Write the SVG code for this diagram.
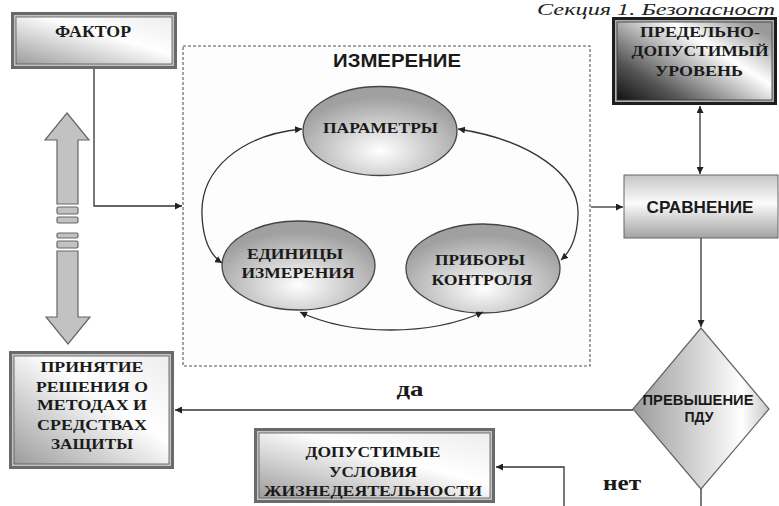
<svg xmlns="http://www.w3.org/2000/svg" width="779" height="506" viewBox="0 0 779 506">
<style>
.serif{font-family:"Liberation Serif","Times New Roman",serif;font-weight:bold;fill:#1a1a1a;text-anchor:middle}
.sans{font-family:"Liberation Sans",Arial,sans-serif;font-weight:bold;fill:#1a1a1a;text-anchor:middle}
.conn{fill:none;stroke:#333;stroke-width:1.3}
.ell{stroke:#444;stroke-width:1.3;fill:url(#ellGrad)}
.frameOuter{fill:#6a6a6a}
.frameMid{fill:#c4c4c4}
.frameIn{fill:url(#boxGrad);stroke:#555;stroke-width:0.8}
.bigArrow{fill:#c2c2c2;stroke:#666;stroke-width:1.2}
</style>
<defs>
<linearGradient id="boxGrad" x1="0" y1="1" x2="1" y2="0">
<stop offset="0" stop-color="#9c9c9c"/>
<stop offset="0.6" stop-color="#ffffff"/>
<stop offset="1" stop-color="#ededed"/>
</linearGradient>
<linearGradient id="pduGrad" x1="0" y1="1" x2="1" y2="0.2">
<stop offset="0" stop-color="#111"/>
<stop offset="0.25" stop-color="#555"/>
<stop offset="0.7" stop-color="#ffffff"/>
<stop offset="1" stop-color="#9a9a9a"/>
</linearGradient>
<linearGradient id="cmpGrad" x1="0" y1="0" x2="0" y2="1">
<stop offset="0" stop-color="#c6c6c6"/>
<stop offset="0.45" stop-color="#fbfbfb"/>
<stop offset="1" stop-color="#a2a2a2"/>
</linearGradient>
<linearGradient id="diaGrad" x1="0" y1="0" x2="1" y2="0">
<stop offset="0" stop-color="#9a9a9a"/>
<stop offset="0.5" stop-color="#d8d8d8"/>
<stop offset="0.8" stop-color="#ffffff"/>
<stop offset="1" stop-color="#c8c8c8"/>
</linearGradient>
<radialGradient id="ellGrad" cx="0.5" cy="0.72" r="0.6">
<stop offset="0" stop-color="#ffffff"/>
<stop offset="1" stop-color="#a0a0a0"/>
</radialGradient>
<marker id="arr" viewBox="0 0 10 10" refX="10" refY="5" markerWidth="7" markerHeight="7" markerUnits="userSpaceOnUse" orient="auto-start-reverse">
<path d="M0,0 L10,5 L0,10 z" fill="#222"/>
</marker>
</defs>

<text x="537" y="15" textLength="238" lengthAdjust="spacingAndGlyphs" style="font-family:'Liberation Serif','Times New Roman',serif;font-style:italic;font-size:16px;fill:#222">Секция 1. Безопасност</text>

<g id="measure">
<rect x="183" y="46" width="407" height="320" fill="#fdfdfd" stroke="#555" stroke-width="1.1" stroke-dasharray="3,2"/>
<text class="sans" x="397" y="67" font-size="18" textLength="128" lengthAdjust="spacingAndGlyphs">ИЗМЕРЕНИЕ</text>
</g>

<g id="factor">
<rect class="frameOuter" x="11" y="12" width="166" height="57"/>
<rect class="frameMid" x="14" y="15" width="160" height="51"/>
<rect class="frameIn" x="16" y="17" width="156" height="47"/>
<text class="serif" x="93" y="37" font-size="16" textLength="76" lengthAdjust="spacingAndGlyphs">ФАКТОР</text>
</g>

<g id="pdu">
<rect x="612" y="17" width="165" height="88" fill="#1e1e1e"/>
<rect x="615" y="20" width="159" height="82" fill="#b0b0b0"/>
<rect x="617" y="22" width="155" height="78" fill="url(#pduGrad)" stroke="#333" stroke-width="0.8"/>
<text class="serif" x="700" y="37" font-size="15" textLength="120" lengthAdjust="spacingAndGlyphs">ПРЕДЕЛЬНО-</text>
<text class="serif" x="700" y="56" font-size="15" textLength="137" lengthAdjust="spacingAndGlyphs">ДОПУСТИМЫЙ</text>
<text class="serif" x="699" y="76" font-size="15" textLength="88" lengthAdjust="spacingAndGlyphs">УРОВЕНЬ</text>
</g>

<g id="compare">
<rect x="624" y="175" width="154" height="63" fill="url(#cmpGrad)" stroke="#666" stroke-width="1"/>
<text class="sans" x="700" y="213" font-size="17" textLength="107" lengthAdjust="spacingAndGlyphs">СРАВНЕНИЕ</text>
</g>

<g id="params">
<ellipse class="ell" cx="380" cy="131" rx="77" ry="44.5"/>
<text class="serif" x="380.5" y="133" font-size="15" textLength="115" lengthAdjust="spacingAndGlyphs">ПАРАМЕТРЫ</text>
</g>

<g id="units">
<ellipse class="ell" cx="298.5" cy="265.5" rx="76.5" ry="44.5"/>
<text class="serif" x="295" y="259" font-size="15" textLength="96" lengthAdjust="spacingAndGlyphs">ЕДИНИЦЫ</text>
<text class="serif" x="298" y="278" font-size="15" textLength="113" lengthAdjust="spacingAndGlyphs">ИЗМЕРЕНИЯ</text>
</g>

<g id="devices">
<ellipse class="ell" cx="483" cy="268.5" rx="77" ry="44.5"/>
<text class="serif" x="480" y="265" font-size="15" textLength="90" lengthAdjust="spacingAndGlyphs">ПРИБОРЫ</text>
<text class="serif" x="482" y="285" font-size="15" textLength="101" lengthAdjust="spacingAndGlyphs">КОНТРОЛЯ</text>
</g>

<g id="decision">
<polygon points="701,328 769,409 701,489 633,409" fill="url(#diaGrad)" stroke="#666" stroke-width="1.2"/>
<text class="sans" x="698" y="405" font-size="14" textLength="111" lengthAdjust="spacingAndGlyphs">ПРЕВЫШЕНИЕ</text>
<text class="sans" x="699" y="422" font-size="14">ПДУ</text>
</g>

<g id="protect">
<rect class="frameOuter" x="9" y="351" width="165" height="118"/>
<rect class="frameMid" x="12" y="354" width="159" height="112"/>
<rect class="frameIn" x="14" y="356" width="155" height="108"/>
<text class="serif" x="92" y="372" font-size="15" textLength="103" lengthAdjust="spacingAndGlyphs">ПРИНЯТИЕ</text>
<text class="serif" x="92" y="392" font-size="15" textLength="112" lengthAdjust="spacingAndGlyphs">РЕШЕНИЯ О</text>
<text class="serif" x="92" y="410" font-size="15" textLength="110" lengthAdjust="spacingAndGlyphs">МЕТОДАХ И</text>
<text class="serif" x="92" y="430" font-size="15" textLength="110" lengthAdjust="spacingAndGlyphs">СРЕДСТВАХ</text>
<text class="serif" x="92" y="449" font-size="15" textLength="82" lengthAdjust="spacingAndGlyphs">ЗАЩИТЫ</text>
</g>

<g id="allowed">
<rect class="frameOuter" x="254" y="428" width="241" height="75"/>
<rect class="frameMid" x="257" y="431" width="235" height="69"/>
<rect class="frameIn" x="259" y="433" width="231" height="65"/>
<text class="serif" x="373" y="457" font-size="15" textLength="135" lengthAdjust="spacingAndGlyphs">ДОПУСТИМЫЕ</text>
<text class="serif" x="373" y="477" font-size="15" textLength="88" lengthAdjust="spacingAndGlyphs">УСЛОВИЯ</text>
<text class="serif" x="373" y="496" font-size="15" textLength="218" lengthAdjust="spacingAndGlyphs">ЖИЗНЕДЕЯТЕЛЬНОСТИ</text>
</g>

<g id="feedback">
<polygon class="bigArrow" points="67,113 89,140 78,140 78,204 57,204 57,140 45,140"/>
<rect class="bigArrow" x="57" y="207" width="21" height="7" rx="1.5"/>
<rect class="bigArrow" x="57" y="217" width="21" height="6" rx="1.5"/>
<rect class="bigArrow" x="57" y="233" width="21" height="5" rx="1.5"/>
<rect class="bigArrow" x="57" y="241" width="21" height="7" rx="1.5"/>
<polygon class="bigArrow" points="57,251 78,251 78,317 90,317 68,344 46,317 57,317"/>
</g>

<g id="connectors">
<path class="conn" d="M94,69 V206 H182" marker-end="url(#arr)"/>
<path class="conn" d="M591,207 H623" marker-end="url(#arr)"/>
<path class="conn" d="M700,106 V174" marker-start="url(#arr)" marker-end="url(#arr)"/>
<path class="conn" d="M701,238 V327" marker-end="url(#arr)"/>
<path class="conn" d="M633,410 H175" marker-end="url(#arr)"/>
<path class="conn" d="M701,489 V506"/>
<path class="conn" d="M564,506 V467 H496" marker-end="url(#arr)"/>
<path class="conn" d="M302,129 C240,135 200,170 202,215 C203,240 210,255 222,263" marker-start="url(#arr)" marker-end="url(#arr)"/>
<path class="conn" d="M458,129 C530,140 580,175 578,215 C577,240 570,252 561,260" marker-start="url(#arr)" marker-end="url(#arr)"/>
<path class="conn" d="M300,312 C350,336 430,336 483,312" marker-start="url(#arr)" marker-end="url(#arr)"/>
<text class="serif" x="410" y="396" font-size="22" textLength="27" lengthAdjust="spacingAndGlyphs">да</text>
<text class="serif" x="622" y="490" font-size="22" textLength="38" lengthAdjust="spacingAndGlyphs">нет</text>
</g>
</svg>
